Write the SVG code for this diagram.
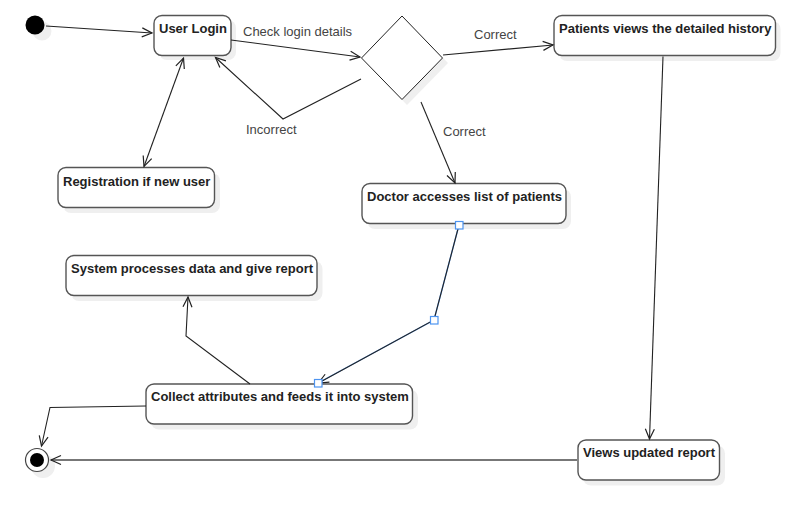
<svg xmlns="http://www.w3.org/2000/svg" width="786" height="511" viewBox="0 0 786 511">
<defs>
<marker id="arr" markerUnits="userSpaceOnUse" markerWidth="14" markerHeight="12" viewBox="-12 -6 14 12" refX="0" refY="0" orient="auto-start-reverse">
<path d="M-10,-4.5 L0,0 L-10,4.5" fill="none" stroke="#222" stroke-width="1.2"/>
</marker>
</defs>
<style>
.box{fill:#fff;stroke:#555;stroke-width:1.4}
.sh{fill:#efefef;stroke:none}
.t{font-family:"Liberation Sans",Arial,sans-serif;font-size:13px;font-weight:bold;fill:#222}
.lbl{font-family:"Liberation Sans",Arial,sans-serif;font-size:13px;fill:#444}
.c{fill:none;stroke:#222;stroke-width:1.1}
.h{fill:#fff;stroke:#4d94f0;stroke-width:1.2}
</style>
<rect width="786" height="511" fill="#fff"/>
<g id="initial">
<circle class="sh" cx="42" cy="31" r="9.5"/>
<circle cx="35" cy="25" r="9.5" fill="#000"/>
</g>
<g id="user-login">
<rect class="sh" x="159" y="20" width="77" height="40" rx="8"/>
<rect class="box" x="154" y="15.5" width="77" height="40" rx="8"/>
<text class="t" x="159" y="33">User Login</text>
</g>
<g id="registration">
<rect class="sh" x="63" y="173" width="157" height="40" rx="8"/>
<rect class="box" x="58" y="167.5" width="156.5" height="40" rx="8"/>
<text class="t" x="63" y="185.5">Registration if new user</text>
</g>
<g id="decision">
<polygon class="sh" points="407,21 448,63 407,105 367,63"/>
<polygon points="402,16 442.5,58 402,99.5 361.5,58" fill="#fff" stroke="#222" stroke-width="1"/>
</g>
<g id="patients-history">
<rect class="sh" x="559" y="21" width="221.5" height="40" rx="8"/>
<rect class="box" x="554" y="15.5" width="221.5" height="40" rx="8"/>
<text class="t" x="559" y="33">Patients views the detailed history</text>
</g>
<g id="doctor-list">
<rect class="sh" x="367" y="189" width="204" height="40" rx="8"/>
<rect class="box" x="362" y="183.5" width="204" height="40" rx="8"/>
<text class="t" x="367" y="200.5">Doctor accesses list of patients</text>
</g>
<g id="system-processes">
<rect class="sh" x="71" y="261" width="251.5" height="40" rx="8"/>
<rect class="box" x="66" y="255.5" width="251" height="40" rx="8"/>
<text class="t" x="71" y="272.5">System processes data and give report</text>
</g>
<g id="collect-attributes">
<rect class="sh" x="151" y="389.5" width="267" height="40" rx="8"/>
<rect class="box" x="146" y="384" width="266.5" height="40" rx="8"/>
<text class="t" x="151" y="401">Collect attributes and feeds it into system</text>
</g>
<g id="views-report">
<rect class="sh" x="583" y="445.5" width="142" height="40" rx="8"/>
<rect class="box" x="578" y="440" width="141.5" height="40" rx="8"/>
<text class="t" x="583" y="457">Views updated report</text>
</g>
<g id="final">
<circle class="sh" cx="43" cy="466" r="12"/>
<circle cx="37" cy="460" r="11.5" fill="#fff" stroke="#444" stroke-width="1.2"/>
<circle cx="37" cy="460" r="7" fill="#000"/>
</g>
<g id="connectors">
<line class="c" x1="46" y1="26" x2="152" y2="33" marker-end="url(#arr)"/>
<line class="c" x1="183.5" y1="58" x2="144" y2="166.5" marker-start="url(#arr)" marker-end="url(#arr)"/>
<line class="c" x1="231" y1="40" x2="360" y2="57" marker-end="url(#arr)"/>
<polyline class="c" points="361,79 283,119 215.5,57.5" marker-end="url(#arr)"/>
<line class="c" x1="443" y1="55" x2="553" y2="45" marker-end="url(#arr)"/>
<line class="c" x1="421" y1="102" x2="455" y2="183" marker-end="url(#arr)"/>
<line class="c" x1="663" y1="56.5" x2="649.5" y2="439" marker-end="url(#arr)"/>
<polyline fill="none" stroke="#6aa6f2" stroke-width="1.4" points="459,225 434,320 318,383"/>
<polyline class="c" stroke-width="0.6" points="459,225 434,320 318.5,383" marker-end="url(#arr)"/>
<polyline class="c" points="250,384 186,336 188,297" marker-end="url(#arr)"/>
<polyline class="c" points="146,406 50,407.5 41.5,446" marker-end="url(#arr)"/>
<line x1="577" y1="460" x2="51" y2="460" stroke="#777" stroke-width="2" marker-end="url(#arr)"/>
<text class="lbl" x="243" y="36">Check login details</text>
<text class="lbl" x="246" y="134">Incorrect</text>
<text class="lbl" x="474" y="39">Correct</text>
<text class="lbl" x="443" y="136">Correct</text>
</g>
<g id="handles">
<rect class="h" x="455.5" y="221.5" width="7.5" height="7.5"/>
<rect class="h" x="430.5" y="316.5" width="7.5" height="7.5"/>
<rect class="h" x="314.5" y="379.5" width="7.5" height="7.5"/>
</g>
</svg>
